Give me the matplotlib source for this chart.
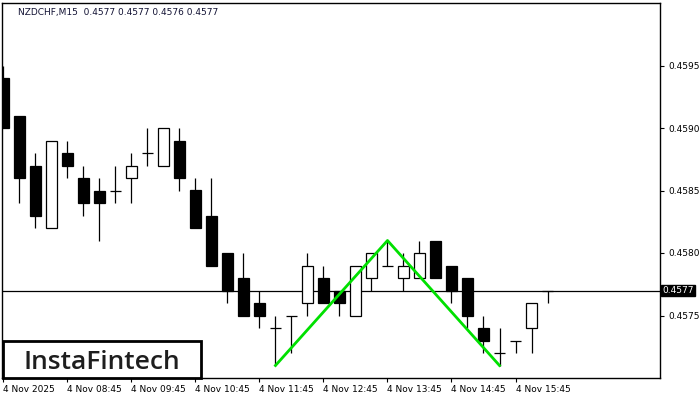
import matplotlib
matplotlib.use("Agg")
import matplotlib.pyplot as plt
from matplotlib.patches import Rectangle

# ---- data ----
opens  = [0.4594, 0.4591, 0.4587, 0.4582, 0.4588, 0.4586, 0.4585, 0.4585, 0.4586, 0.4588,
          0.4587, 0.4589, 0.4585, 0.4583, 0.4580, 0.4578, 0.4576, 0.4574, 0.4575, 0.4576,
          0.4578, 0.4577, 0.4575, 0.4578, 0.4579, 0.4578, 0.4578, 0.4581, 0.4579, 0.4578,
          0.4574, 0.4572, 0.4573, 0.4574, 0.4577]
highs  = [0.4595, 0.4591, 0.4588, 0.4589, 0.4589, 0.4587, 0.4586, 0.4587, 0.4588, 0.4590,
          0.4590, 0.4590, 0.4586, 0.4586, 0.4580, 0.4580, 0.4577, 0.4575, 0.4575, 0.4580,
          0.4579, 0.4577, 0.4579, 0.4580, 0.4581, 0.4580, 0.4581, 0.4581, 0.4579, 0.4578,
          0.4575, 0.4574, 0.4573, 0.4576, 0.4577]
lows   = [0.4590, 0.4584, 0.4582, 0.4582, 0.4586, 0.4583, 0.4581, 0.4584, 0.4584, 0.4587,
          0.4587, 0.4585, 0.4582, 0.4579, 0.4576, 0.4575, 0.4574, 0.4571, 0.4572, 0.4575,
          0.4576, 0.4575, 0.4575, 0.4577, 0.4579, 0.4577, 0.4578, 0.4578, 0.4576, 0.4574,
          0.4572, 0.4571, 0.4572, 0.4572, 0.4576]
closes = [0.4590, 0.4586, 0.4583, 0.4589, 0.4587, 0.4584, 0.4584, 0.4585, 0.4587, 0.4588,
          0.4590, 0.4586, 0.4582, 0.4579, 0.4577, 0.4575, 0.4575, 0.4574, 0.4575, 0.4579,
          0.4576, 0.4576, 0.4579, 0.4580, 0.4579, 0.4579, 0.4580, 0.4578, 0.4577, 0.4575,
          0.4573, 0.4572, 0.4573, 0.4576, 0.4577]

pattern_idx    = [17, 24, 31]
pattern_prices = [0.4571, 0.4581, 0.4571]

xtick_idx    = [0, 4, 8, 12, 16, 20, 24, 28, 32]
xtick_labels = ["4 Nov 2025", "4 Nov 08:45", "4 Nov 09:45", "4 Nov 10:45", "4 Nov 11:45",
                "4 Nov 12:45", "4 Nov 13:45", "4 Nov 14:45", "4 Nov 15:45"]
ytick_vals   = [0.4575, 0.4580, 0.4585, 0.4590, 0.4595]
current_price = 0.4577
header = "NZDCHF,M15  0.4577 0.4577 0.4576 0.4577"

# ---- figure ----
W, H = 700, 400
fig = plt.figure(figsize=(7, 4), dpi=100)
ax = fig.add_axes([2 / W, 1 - 378 / H, 658 / W, 375 / H])
ax.set_xlim(-0.09, 41.03)
ax.set_ylim(0.4570, 0.4600)

lw = 0.9
bw = 0.69
for i, (o, h, l, c) in enumerate(zip(opens, highs, lows, closes)):
    top = max(o, c)
    bot = min(o, c)
    ax.vlines(i, l, h, color="black", linewidth=lw, zorder=2)
    if c == o:
        ax.hlines(o, i - bw / 2, i + bw / 2, color="black", linewidth=lw, zorder=3)
    else:
        face = "black" if c < o else "white"
        ax.add_patch(Rectangle((i - bw / 2, bot), bw, top - bot, facecolor=face,
                               edgecolor="black", linewidth=lw, zorder=3))

# current price line
ax.axhline(current_price, color="black", linewidth=0.9, zorder=1)

# pattern line
ax.plot(pattern_idx, pattern_prices, color="#00e000", linewidth=2.0, zorder=5)

# axes styling
for s in ax.spines.values():
    s.set_linewidth(1.0)
    s.set_color("black")
ax.yaxis.tick_right()
ax.set_yticks(ytick_vals)
ax.set_yticklabels([f"{v:.4f}" for v in ytick_vals])
ax.set_xticks(xtick_idx)
ax.set_xticklabels(xtick_labels, ha="left")
ax.tick_params(axis="both", direction="out", length=3, width=0.8, labelsize=6.5,
               colors="black", pad=2)
ax.tick_params(axis="y", pad=3)

# current price label
ax.text(1.003, current_price, f"{current_price:.4f}", transform=ax.get_yaxis_transform(),
        ha="left", va="center", fontsize=6.5, color="white", zorder=10,
        bbox=dict(boxstyle="square,pad=0.15", facecolor="black", edgecolor="black"),
        clip_on=False)

# header
fig.text(18 / W, 1 - 12 / H, header, fontsize=6.5, color="#111133", ha="left", va="center")

# logo box
fig.patches.append(Rectangle((3 / W, 1 - 378 / H), 198 / W, 37 / H, transform=fig.transFigure,
                             facecolor="white", edgecolor="black", linewidth=2.0, zorder=20))
fig.text(102 / W, 1 - 369 / H, "InstaFintech", fontsize=19, color="#1e1e1e",
         ha="center", va="baseline", zorder=21, family="Open Sans", weight="semibold")

fig.savefig("out.png", dpi=100, facecolor="white")
